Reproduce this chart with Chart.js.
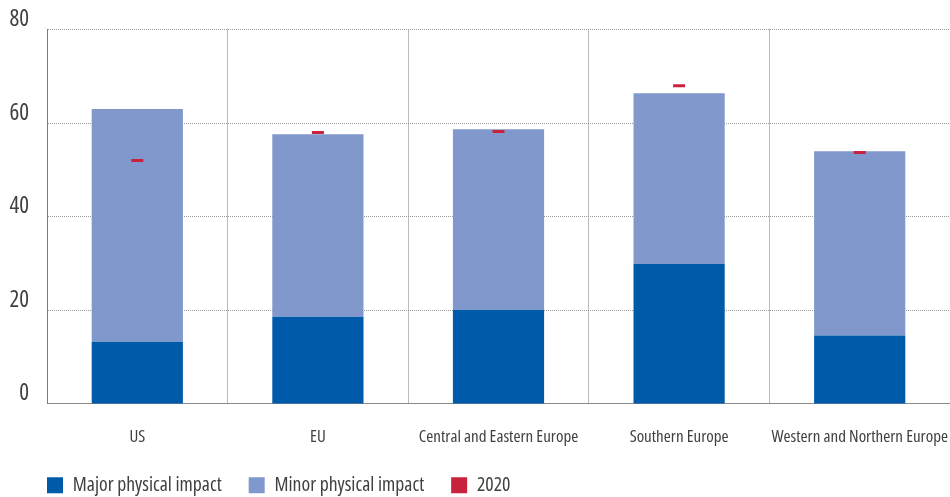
<!DOCTYPE html>
<html><head><meta charset="utf-8">
<script src="https://cdn.jsdelivr.net/npm/chart.js@4/dist/chart.umd.min.js"></script>
<style>html,body{margin:0;padding:0;background:#fff;overflow:hidden}#w{width:950px;height:497px}canvas{display:block}</style>
</head><body><div id="w"><canvas id="c"></canvas></div>
<script>
const categories = ["US", "EU", "Central and Eastern Europe", "Southern Europe", "Western and Northern Europe"];
const majorImpact = [13.3, 18.6, 20.1, 29.9, 14.6];
const minorImpact = [49.7, 39.0, 38.6, 36.5, 39.4];
const y2020 = [52.0, 58.0, 58.2, 68.0, 53.7];
const yTicks = [0, 20, 40, 60, 80];

const FAM = "'Open Sans', sans-serif";
const COND = 'condensed';
const TXT = '#404040';

new Chart(document.getElementById('c'), {
  data: {
    labels: categories,
    datasets: [
      { type: 'bar', label: 'Major physical impact', data: majorImpact, backgroundColor: '#005aaa', stack: 'bars', categoryPercentage: 1, barPercentage: 0.505, order: 2 },
      { type: 'bar', label: 'Minor physical impact', data: minorImpact, backgroundColor: '#8098cb', stack: 'bars', categoryPercentage: 1, barPercentage: 0.505, order: 2 },
      { type: 'line', label: '2020', data: y2020, showLine: false, stack: 'marks', backgroundColor: '#c8223c', borderColor: '#c8223c', pointStyle: 'line', pointRadius: 6, pointHoverRadius: 6, pointBorderWidth: 3, borderWidth: 3, order: 1 }
    ]
  },
  options: {
    responsive: true, maintainAspectRatio: false, animation: false,
    layout: { autoPadding: false, padding: { left: 0, right: 0, top: 8, bottom: -7 } },
    plugins: {
      tooltip: { enabled: false },
      legend: {
        position: 'bottom', align: 'start',
        labels: {
          font: { family: FAM, size: 19.7, weight: COND }, color: TXT, boxWidth: 16, boxHeight: 16, padding: 27,
          generateLabels(chart) {
            const items = Chart.defaults.plugins.legend.labels.generateLabels(chart);
            items.forEach(i => { i.lineWidth = 0; i.strokeStyle = 'rgba(0,0,0,0)'; });
            items.sort((a, b) => a.datasetIndex - b.datasetIndex);
            return items;
          }
        }
      }
    },
    scales: {
      x: {
        stacked: true,
        afterFit(s) { s.paddingLeft = 0; s.paddingRight = 0; },
        grid: { display: true, offset: true, color: '#7a7a7a', drawTicks: true, tickLength: 23, tickColor: 'rgba(0,0,0,0)', lineWidth: 1 },
        border: { display: true, dash: [1, 1], color: '#8a8a8a' },
        ticks: { font: { family: FAM, size: 17, weight: COND }, color: TXT, padding: 0, maxRotation: 0, autoSkip: false }
      },
      y: {
        stacked: true, min: 0, max: 80,
        afterFit(s) { s.width = 47; },
        afterBuildTicks(s) { s.ticks = yTicks.map(v => ({ value: v })); },
        grid: { color: '#9a9a9a', drawTicks: false },
        border: { display: true, dash: [1, 1], color: '#7a7a7a' },
        ticks: { font: { family: FAM, size: 23, weight: COND, lineHeight: 1 }, color: TXT, padding: 18, labelOffset: -10 }
      }
    }
  },
  plugins: [{
    id: 'legendShift',
    afterLayout(chart) {
      const lg = chart.legend;
      if (lg) {
        lg.left = 20; lg.right = chart.width + 20;
        const h = lg.height;
        lg.top = 448.5; lg.bottom = lg.top + h;
      }
    }
  }]
});
</script>
</body></html>
